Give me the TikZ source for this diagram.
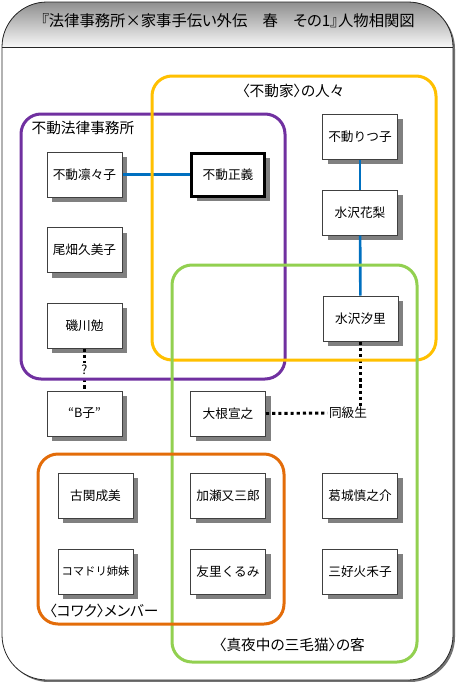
\documentclass[tikz,border=0pt]{standalone}
\usepackage{fontspec}
\setmainfont{Noto Sans CJK JP}
\newfontfamily\pfont[RawFeature=+palt]{Noto Sans CJK JP}
\usetikzlibrary{shadows}
\definecolor{cpurple}{HTML}{7030A0}
\definecolor{cyellow}{HTML}{FFC000}
\definecolor{cgreen}{HTML}{92D050}
\definecolor{corange}{HTML}{E36C09}
\definecolor{cblue}{HTML}{0070C0}
\begin{document}
\begin{tikzpicture}[x=0.75pt,y=-0.75pt,
  person/.style={draw=black!75, line width=0.75pt, fill=white,
    minimum width=56.25pt, minimum height=33.75pt, inner sep=0pt,
    font=\fontsize{9.5}{11}\selectfont,
    drop shadow={shadow xshift=3.75pt, shadow yshift=-3.75pt, fill=black!50, opacity=1}},
  mainperson/.style={person, draw=black, line width=2.25pt,
    minimum width=54.75pt, minimum height=32.25pt},
  grp/.style={line width=2.25pt, rounded corners=15pt},
  grplabel/.style={inner sep=1pt, font=\pfont\fontsize{11}{13}\selectfont},
  rel/.style={draw=cblue, line width=2pt},
  dots/.style={draw=black, line width=2.2pt, dash pattern=on 2.4pt off 2.2pt},
  smalllabel/.style={inner sep=1pt, font=\fontsize{9.5}{11}\selectfont}
]
\useasboundingbox (0,0) rectangle (456,682);
% outer frame
\fill[black!55, rounded corners=33.75pt] (4,4) rectangle (455,682);
\fill[white, rounded corners=33.75pt] (2,2) rectangle (453,680);
\begin{scope}
  \clip[rounded corners=33.75pt] (2,2) rectangle (453,680);
  \fill[top color=black!45, bottom color=black!3] (2,1) rectangle (453,47);
\end{scope}
\draw[black!85, line width=0.6pt, rounded corners=33.75pt] (2,2) rectangle (453,680);
\draw[black!85, line width=0.6pt] (2,47) -- (453,47);
\node[font=\pfont\fontsize{11.5}{13}\selectfont, inner sep=0pt] (title) at (228,21)
  {『法律事務所×家事手伝い外伝　春　その1』人物相関図};

% persons
\node[person] (rin) at (84.5,174.5) {不動凛々子};
\node[mainperson] (masa) at (228,174.5) {不動正義};
\node[person] (obata) at (84.5,250) {尾畑久美子};
\node[person] (iso) at (84.5,325.5) {磯川勉};
\node[person] (bko) at (84.5,413.5) {“B子”};
\node[person] (ritsu) at (360,136.5) {不動りつ子};
\node[person] (karin) at (360,212.5) {水沢花梨};
\node[person] (shiori) at (360.5,318.5) {水沢汐里};
\node[person] (one) at (228,413.5) {大根宣之};
\node[person] (koseki) at (95.5,495.5) {古関成美};
\node[person, font=\fontsize{8.5}{10}\selectfont] (koma) at (95.5,571.5) {コマドリ姉妹};
\node[person] (kase) at (228,495.5) {加瀬又三郎};
\node[person] (yuri) at (228,571.5) {友里くるみ};
\node[person] (katsura) at (360,495.5) {葛城慎之介};
\node[person] (miyoshi) at (360,571.5) {三好火禾子};

% connectors
\draw[rel] (rin) -- (masa);
\draw[rel] (ritsu) -- (karin);
\draw[rel] (karin) -- (shiori);
\draw[dots] (iso) -- (bko) node[midway, fill=white, smalllabel] (q) {?};
\node[smalllabel] (dk) at (348,413) {同級生};
\draw[dots] (shiori.south) -- (shiori.south |- dk.north);
\draw[dots] (one.east) -- (dk.west);

% groups
\draw[grp, cpurple] (21,114) rectangle (285,379);
\draw[grp, cyellow] (152,76) rectangle (436,360);
\draw[grp, cgreen] (172,265) rectangle (417,662);
\draw[grp, corange] (38,454) rectangle (284,624);

\node[grplabel, anchor=west] (lawlbl) at (30,128) {不動法律事務所};
\node[grplabel] (famlbl) at (293,91) {〈不動家〉の人々};
\node[grplabel] (kowlbl) at (104,611) {〈コワク〉メンバー};
\node[grplabel] (catlbl) at (292,645) {〈真夜中の三毛猫〉の客};
\end{tikzpicture}
\end{document}
